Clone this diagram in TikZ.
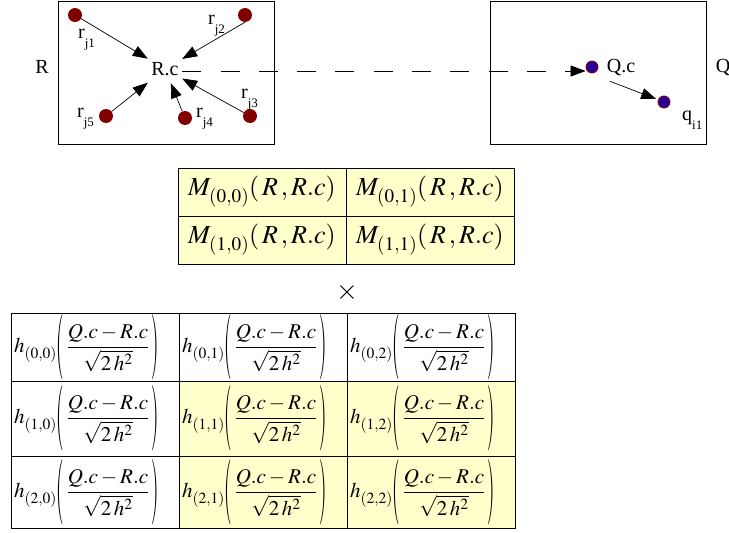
\documentclass[tikz,border=0pt]{standalone}
\usepackage{mathptmx}
\usepackage{graphicx}
\usepackage{fontspec}
\setmainfont{Liberation Serif}
\usetikzlibrary{positioning,arrows.meta}

\definecolor{cellyellow}{RGB}{255,255,204}
\definecolor{dotred}{RGB}{128,0,0}
\definecolor{dotblue}{RGB}{40,0,150}

\newcommand{\sublab}[2]{#1\raisebox{-9pt}{\fontsize{13}{13}\selectfont #2}}
\newcommand{\tallp}[1]{\vcenter{\hbox{\scalebox{0.9}[3.1]{$#1$}}}}
\newcommand{\hcell}[1]{$\displaystyle h_{\lower3pt\hbox{$\scriptstyle(#1)$}}%
  \tallp{(}\,\frac{Q.c-R.c}{\sqrt{2\,h^{2}}}\,\tallp{)}$}
\newcommand{\mcell}[1]{$M_{\lower3pt\hbox{$\scriptstyle(#1)$}}(\,R\,,R.c)$}

\begin{document}
\begin{tikzpicture}[x=1pt, y=-1pt,
    >={Triangle[length=15pt,width=11pt]}, node distance=0pt,
    every node/.style={font=\fontsize{20}{24}\selectfont},
    rdot/.style={circle, fill=dotred, inner sep=0pt, minimum size=14pt},
    qdot/.style={circle, fill=dotblue, draw=dotred, line width=0.8pt,
                 inner sep=0pt, minimum size=12pt},
    lab/.style={inner sep=0pt, anchor=base west},
    region/.style={draw, line width=0.8pt, inner sep=0pt,
                   minimum width=216pt, minimum height=143pt, anchor=north west},
    arr/.style={->, draw=black, line width=0.7pt},
    dasharr/.style={->, draw=black, line width=0.7pt, dash pattern=on 19pt off 19.3pt},
    mbox/.style={draw, line width=0.8pt, fill=cellyellow, minimum width=168pt,
                 minimum height=48pt, inner sep=0pt, outer sep=0pt,
                 font=\fontsize{26}{30}\selectfont},
    hbox/.style={draw, line width=0.8pt, fill=white, minimum width=168pt,
                 text width=162pt, align=left, inner sep=0pt, outer sep=0pt,
                 font=\fontsize{21}{24}\selectfont}
  ]
  \useasboundingbox (0,0) rectangle (729,533);

  % the two regions
  \node[region] (Rbox) at (58,1) {};
  \node[region] (Qbox) at (490,1) {};
  \node (Rname) at (42,67) {R};
  \node (Qname) at (723,67) {Q};

  % points of R
  \node[minimum width=34pt, minimum height=28pt, inner sep=0pt] (Rc) at (165,69) {R.c};
  \node[rdot] (rj1) at (75,15) {};
  \node[rdot] (rj2) at (245,15) {};
  \node[rdot] (rj3) at (250,116) {};
  \node[rdot] (rj4) at (185,118) {};
  \node[rdot] (rj5) at (106,116) {};
  \node[lab] (rj1lab) at (78,38) {\sublab{r}{j1}};
  \node[lab] (rj2lab) at (208,24) {\sublab{r}{j2}};
  \node[lab] (rj3lab) at (241,98) {\sublab{r}{j3}};
  \node[lab] (rj4lab) at (196,117) {\sublab{r}{j4}};
  \node[lab] (rj5lab) at (77,117) {\sublab{r}{j5}};

  \draw[arr] (rj1) -- (Rc);
  \draw[arr] (rj2.south) -- (Rc);
  \draw[arr] (rj3) -- (Rc);
  \draw[arr] (rj4) -- (Rc);
  \draw[arr] (rj5) -- (Rc);

  % points of Q
  \node[qdot] (Qc) at (592,67) {};
  \node[right=5pt of Qc] (Qclab) {Q.c};
  \node[qdot] (qi1) at (664,102) {};
  \node[lab] (qi1lab) at (682,120) {\sublab{q}{i1}};
  \draw[arr, shorten <=7pt, shorten >=2pt] (Qclab.south west) -- (qi1);

  \draw[dasharr] ([yshift=-2pt]Rc.east) -- ([yshift=-2pt]Rc.east -| Qc.west);

  % M table
  \node[mbox, anchor=north west] (m00) at (178,168) {\mcell{0,0}};
  \node[mbox, right=of m00] (m01) {\mcell{0,1}};
  \node[mbox, below=of m00] (m10) {\mcell{1,0}};
  \node[mbox, right=of m10] (m11) {\mcell{1,1}};

  \node[font=\fontsize{28}{28}\selectfont] (times) at (347,292) {$\times$};

  % h table
  \node[hbox, minimum height=68pt, anchor=north west] (h00) at (11,313) {\hcell{0,0}};
  \node[hbox, minimum height=68pt, right=of h00] (h01) {\hcell{0,1}};
  \node[hbox, minimum height=68pt, right=of h01] (h02) {\hcell{0,2}};
  \node[hbox, minimum height=75pt, below=of h00] (h10) {\hcell{1,0}};
  \node[hbox, minimum height=75pt, right=of h10, fill=cellyellow] (h11) {\hcell{1,1}};
  \node[hbox, minimum height=75pt, right=of h11, fill=cellyellow] (h12) {\hcell{1,2}};
  \node[hbox, minimum height=72pt, below=of h10] (h20) {\hcell{2,0}};
  \node[hbox, minimum height=72pt, right=of h20, fill=cellyellow] (h21) {\hcell{2,1}};
  \node[hbox, minimum height=72pt, right=of h21, fill=cellyellow] (h22) {\hcell{2,2}};
\end{tikzpicture}
\end{document}
